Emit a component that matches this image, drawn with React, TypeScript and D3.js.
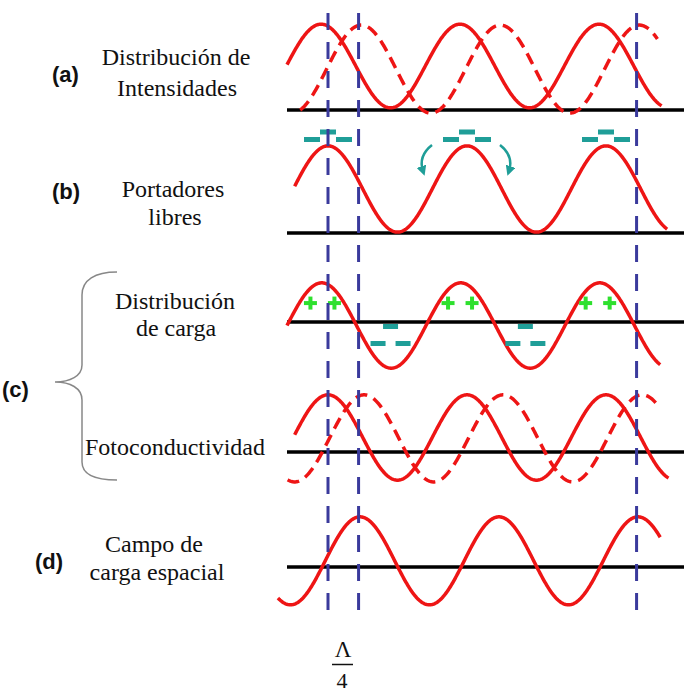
import React from 'react';
import * as d3 from 'd3';

const W = 684;
const H = 693;

// ---- Data (x in units of the grating period Λ, y in normalised amplitude) ----
const curveIds = ['a-solid', 'a-dashed', 'b', 'c-charge', 'c-solid', 'c-dashed', 'd'];
const curvePanel = [0, 0, 1, 2, 3, 3, 4];
const curvePeak = [-0.05, 0.24, 0, -0.045, 0, 0.26, 0.23];
const curveStart = [-0.295, -0.2, -0.24, -0.295, -0.24, -0.29, -0.36];
const curveEnd = [2.4, 2.37, 2.44, 2.39, 2.45, 2.37, 2.39];
const curveMin = [0.05, -0.07, 0.02, -1.05, -0.64, -0.68, -0.86];
const curveMax = [1.95, 1.93, 1.98, 0.89, 1.3, 1.3, 1.14];
const curveDashed = [false, true, false, false, false, true, false];

const referenceLines = [0, 0.22, 2.22];
const freeCarriers = [0, 1, 2];
const positiveCharges = [-0.04, 0.95, 1.94];
const negativeCharges = [0.45, 1.42];

const panelLetters = ['(a)', '(b)', '(c)', '(d)'];
const panelTexts = [
  ['Distribución de', 'Intensidades'],
  ['Portadores', 'libres'],
  ['Distribución', 'de carga'],
  ['Fotoconductividad'],
  ['Campo de', 'carga espacial'],
];

// ---- Layout ----
const panelBase = [110, 233, 322, 452, 567];
const unitPx = 44;
const RED = '#ee1515';
const BLUE = '#3a3a9c';
const TEAL = '#1f9e98';
const GREEN = '#2ee02e';
const SERIF = '"Liberation Serif", "Times New Roman", serif';
const SANS = '"Liberation Sans", Arial, sans-serif';

const x = d3.scaleLinear().domain([0, 1]).range([328, 467]);
const yScales = panelBase.map((b) => d3.scaleLinear().domain([0, 1]).range([b, b - unitPx]));

function curvePath(i: number): string {
  const y = yScales[curvePanel[i]];
  const mid = (curveMax[i] + curveMin[i]) / 2;
  const amp = (curveMax[i] - curveMin[i]) / 2;
  const pts = d3.range(curveStart[i], curveEnd[i] + 1e-9, 0.005).map((u) => [u, mid + amp * Math.cos(2 * Math.PI * (u - curvePeak[i]))] as [number, number]);
  const line = d3
    .line<[number, number]>()
    .x((d) => x(d[0]))
    .y((d) => y(d[1]));
  return line(pts) || '';
}

export default function App() {
  const serifText = (t: string, cx: number, by: number, anchor: 'middle' | 'start' = 'middle', key?: string) => (
    <text key={key ?? t} x={cx} y={by} textAnchor={anchor} fontFamily={SERIF} fontSize={24} fill="#111">
      {t}
    </text>
  );
  const letter = (t: string, lx: number, by: number) => (
    <text key={t} x={lx} y={by} fontFamily={SANS} fontWeight="bold" fontSize={22} fill="#111">
      {t}
    </text>
  );

  return (
    <svg width={W} height={H} viewBox={`0 0 ${W} ${H}`} style={{ position: 'absolute', left: 0, top: 0, background: '#fff' }}>
      <defs>
        <marker id="ah" viewBox="0 0 10 10" refX="5" refY="5" markerWidth="10" markerHeight="10" markerUnits="userSpaceOnUse" orient="auto">
          <path d="M0,0 L10,5 L0,10 z" fill={TEAL} />
        </marker>
      </defs>

      {/* baselines */}
      {panelBase.map((b, i) => (
        <line key={'base' + i} x1={287} x2={W} y1={b} y2={b} stroke="#000" strokeWidth={3.5} />
      ))}

      {/* curves */}
      {curveIds.map((id, i) => (
        <path
          key={id}
          d={curvePath(i)}
          fill="none"
          stroke={RED}
          strokeWidth={3.5}
          strokeDasharray={curveDashed[i] ? '12 7' : undefined}
        />
      ))}

      {/* free carriers (b) */}
      {freeCarriers.map((u, i) => {
        const cx = x(u);
        return (
          <g key={'fc' + i} fill={TEAL}>
            <rect x={cx - 8} y={129.5} width={16} height={5} />
            <rect x={cx - 24} y={137} width={16} height={5} />
            <rect x={cx + 8} y={137} width={16} height={5} />
          </g>
        );
      })}

      {/* diffusion arrows */}
      <path d="M432,145 Q418,156 423,171" fill="none" stroke={TEAL} strokeWidth={2.5} markerEnd="url(#ah)" />
      <path d="M500,145 Q514,156 509,171" fill="none" stroke={TEAL} strokeWidth={2.5} markerEnd="url(#ah)" />

      {/* positive charges */}
      {positiveCharges.map((u, i) => {
        const cy = yScales[2](0.43);
        return [-12, 12].map((dx) => (
          <g key={'pc' + i + dx} stroke={GREEN} strokeWidth={4}>
            <line x1={x(u) + dx - 6.5} x2={x(u) + dx + 6.5} y1={cy} y2={cy} />
            <line x1={x(u) + dx} x2={x(u) + dx} y1={cy - 6.5} y2={cy + 6.5} />
          </g>
        ));
      })}

      {/* negative charges */}
      {negativeCharges.map((u, i) => {
        const cx = x(u);
        return (
          <g key={'nc' + i} fill={TEAL}>
            <rect x={cx - 7.5} y={324} width={15} height={5} />
            <rect x={cx - 20} y={341} width={15} height={5} />
            <rect x={cx + 5} y={341} width={15} height={5} />
          </g>
        );
      })}

      {/* reference dashed verticals */}
      {referenceLines.map((u, i) => (
        <line key={'ref' + i} x1={x(u)} x2={x(u)} y1={13} y2={622} stroke={BLUE} strokeWidth={3} strokeDasharray="17 12" />
      ))}

      {/* brace for (c) */}
      <path
        d="M117,272 C95,272 82,280 82,295 L82,365 C82,376 70,382 55,382 C70,382 82,388 82,400 L82,462 C82,474 95,480 117,480"
        fill="none"
        stroke="#888"
        strokeWidth={1.5}
      />

      {/* labels */}
      {letter(panelLetters[0], 52, 82)}
      {serifText(panelTexts[0][0], 176, 65)}
      {serifText(panelTexts[0][1], 177, 96)}

      {letter(panelLetters[1], 52, 199)}
      {serifText(panelTexts[1][0], 173, 197)}
      {serifText(panelTexts[1][1], 175, 225)}

      {letter(panelLetters[2], 2, 397)}
      {serifText(panelTexts[2][0], 175, 309)}
      {serifText(panelTexts[2][1], 176, 336)}
      {serifText(panelTexts[3][0], 85, 455, 'start')}

      {letter(panelLetters[3], 35, 569)}
      {serifText(panelTexts[4][0], 154, 552)}
      {serifText(panelTexts[4][1], 157, 580)}

      {/* Λ/4 */}
      <text x={343} y={657} textAnchor="middle" fontFamily={SERIF} fontSize={23} fill="#111">Λ</text>
      <line x1={332} x2={353} y1={664.5} y2={664.5} stroke="#111" strokeWidth={1.5} />
      <text x={342} y={688} textAnchor="middle" fontFamily={SERIF} fontSize={22} fill="#111">4</text>
    </svg>
  );
}
